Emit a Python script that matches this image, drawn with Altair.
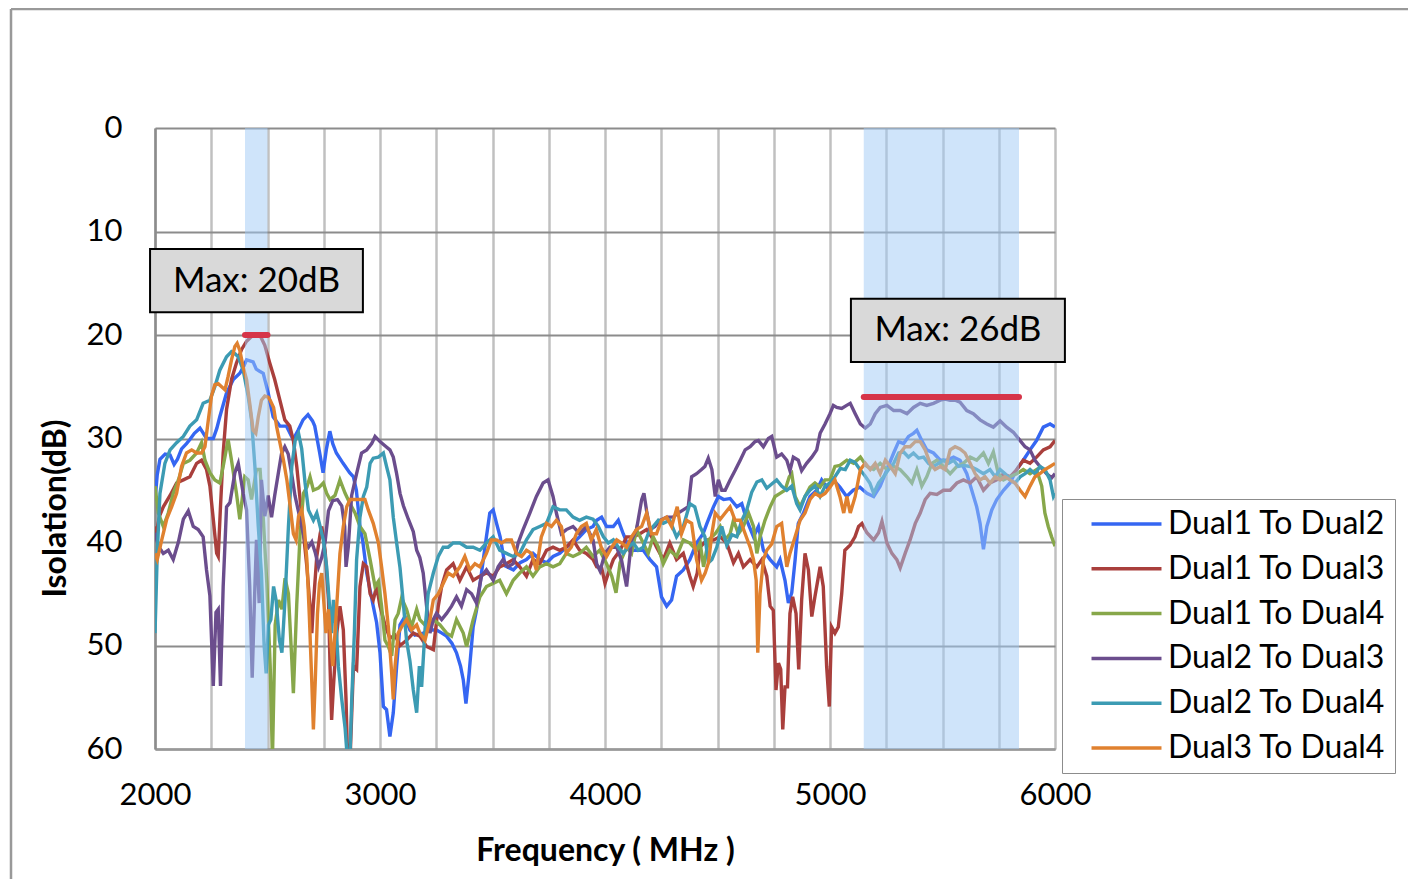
import altair as alt
import pandas as pd

# ---------------- data ----------------
series_names = ["Dual1 To Dual2", "Dual1 To Dual3", "Dual1 To Dual4",
                "Dual2 To Dual3", "Dual2 To Dual4", "Dual3 To Dual4"]
series_colors = ["#3566f2", "#a93f3c", "#87a74a", "#6b4d8d", "#3c9bb3", "#e0812f"]

# (frequency MHz, isolation dB)
d12 = [(2000,36),(2010,33.5),(2022,32),(2045,31.5),(2067,31.6),(2085,32.5),(2100,32),(2118,31),(2140,30.5),
 (2155,30.1),(2175,29.5),(2200,29),(2215,29.5),(2229,30),(2259,30),(2275,29),(2288,27.9),(2318,25.6),(2348,24.3),
 (2377,23.7),(2395,23),(2407,22.4),(2436,22.6),(2450,23.3),(2465,23.5),(2481,23.7),(2503,25.6),(2525,27.9),
 (2555,28.8),(2584,28.8),(2614,30.1),(2636,29.2),(2658,28.2),(2680,27.7),(2700,28.3),(2710,28.8),(2732,31.4),
 (2747,33.3),(2762,31),(2777,29.3),(2790,30.5),(2806,31.4),(2836,32.4),(2865,33.3),(2882,33.7),(2895,35),
 (2911,38.5),(2924,40),(2941,43),(2970,46.2),(2985,47.8),(3000,50.7),(3015,55.9),(3029,56.2),(3044,58.8),
 (3059,56.5),(3074,52),(3089,48),(3111,47.2),(3133,48.5),(3155,49),(3192,48.8),(3225,48.5),(3251,48.5),
 (3275,48.8),(3296,49.1),(3320,49.8),(3340,50.7),(3358,52),(3370,53.3),(3382,55.6),(3396,52.7),(3414,48.2),
 (3429,46.6),(3451,43),(3473,39.5),(3488,37.2),(3503,36.9),(3518,38.2),(3534,39.5),(3556,42.3),(3575,42.5),
 (3593,42.7),(3623,42),(3651,41.7),(3680,41.1),(3710,41.7),(3741,42),(3769,41.4),(3799,41.1),(3828,40.5),
 (3858,40.1),(3887,39.5),(3917,38.8),(3947,38.5),(3963,37.9),(3985,37.6),(4007,38.5),(4037,38.5),(4059,37.9),
 (4081,39.2),(4111,40.8),(4140,40.8),(4170,40.8),(4200,41.7),(4229,42.4),(4251,45.3),(4274,46.2),(4296,45.6),
 (4318,43.3),(4348,42.7),(4377,41.7),(4407,40.1),(4436,39.2),(4453,38.2),(4482,36.6),(4504,35.6),(4527,35.9),
 (4556,35.8),(4586,36.6),(4608,36.3),(4630,37.9),(4660,39.5),(4682,38.5),(4704,40.8),(4734,41.7),(4763,42.4),
 (4778,41.7),(4800,43.7),(4815,45.9),(4830,44.9),(4845,41.7),(4859,38.2),(4882,37.2),(4911,35.6),(4941,35),
 (4963,34),(4985,34.7),(5015,34),(5044,34.7),(5074,35.6),(5103,35),(5133,34.7),(5164,35.3),(5194,35.6),
 (5223,34.6),(5253,33),(5283,31.4),(5305,30.3),(5327,30.5),(5349,29.8),(5371,29.5),(5386,29.2),(5408,30.2),
 (5430,31.1),(5460,31.4),(5490,32.1),(5519,32.1),(5549,31.8),(5578,32.1),(5608,33.4),(5630,35),(5652,36.6),
 (5667,38.2),(5682,40.7),(5697,38.5),(5719,36.9),(5741,35.9),(5771,35),(5800,34.3),(5830,33),(5859,32.1),
 (5889,31.1),(5918,30.2),(5948,28.9),(5978,28.6),(6000,28.9)]

d13 = [(2000,38.5),(2007,39.1),(2020,37.5),(2037,36.6),(2067,35.5),(2096,34.3),(2126,34),(2155,33.7),(2185,32.4),
 (2207,32.1),(2229,33),(2244,34.6),(2259,37.8),(2274,41.1),(2281,41.4),(2291,36.6),(2303,31.4),(2318,27.2),
 (2340,24.3),(2362,22.7),(2385,21.4),(2407,20.6),(2436,20),(2466,20),(2488,21),(2510,22.7),(2532,24.3),
 (2555,26.3),(2577,28.2),(2599,28.8),(2615,30.2),(2630,32.7),(2645,35.9),(2660,39.2),(2675,42.4),(2689,46.2),
 (2697,48.8),(2704,46),(2719,41.4),(2734,39.2),(2741,38.5),(2756,40.8),(2771,45.6),(2778,52),(2785,57.2),
 (2793,54),(2808,48.8),(2822,46.2),(2837,48.5),(2849,55.2),(2856,61),(2867,61),(2882,52),(2896,52.3),
 (2911,44.3),(2926,42.1),(2941,42.4),(2956,45),(2970,45.6),(2985,44.3),(3000,46.2),(3022,48),(3044,49.3),
 (3067,49),(3089,50),(3118,49.5),(3148,48.8),(3177,49.1),(3207,50.1),(3237,50.4),(3259,46.2),(3274,44.3),
 (3296,42.7),(3325,42.1),(3355,43.7),(3385,42.4),(3414,43.7),(3444,43.3),(3473,43),(3503,43.3),(3532,42.4),
 (3562,42.1),(3592,41.7),(3621,42.4),(3651,43.3),(3680,41.7),(3710,42.1),(3740,40.8),(3769,40.5),(3799,40.8),
 (3828,40.5),(3858,39.8),(3887,40.8),(3917,41.1),(3947,41.7),(3963,42.4),(3985,42.5),(4000,44),(4015,43),
 (4037,41.7),(4067,40.8),(4096,39.5),(4126,39.5),(4155,39.2),(4185,38.8),(4207,39.5),(4229,40.5),(4259,41.7),
 (4288,40.1),(4318,41.7),(4348,41.1),(4377,43.3),(4392,44.3),(4410,43),(4423,40.5),(4453,39.8),(4482,39.8),
 (4512,39.5),(4541,40.1),(4571,42),(4593,41.1),(4615,42.4),(4645,41.7),(4675,42.4),(4697,41.7),(4719,43.3),
 (4734,46.2),(4748,46.6),(4760,54.3),(4771,51.7),(4781,52.3),(4790,58.1),(4800,54),(4811,54),(4822,46.9),
 (4834,45.3),(4849,46.9),(4861,52.3),(4874,45.6),(4889,41.1),(4904,42.7),(4919,47.2),(4933,45.3),(4956,42.4),
 (4970,44.3),(4985,52),(4997,55.9),(5007,48.2),(5022,48.8),(5037,48.2),(5052,45),(5066,40.8),(5089,40.3),
 (5111,39.5),(5127,38.5),(5142,38.2),(5164,39.1),(5194,39.8),(5216,39.1),(5231,38),(5253,40.1),(5275,41.1),
 (5297,41.7),(5312,42.5),(5334,41.1),(5356,39.8),(5379,38.2),(5401,37.2),(5423,35.9),(5445,35.3),(5475,35.4),
 (5504,35),(5534,35),(5564,34.3),(5593,34),(5623,34.3),(5652,33.7),(5682,35),(5711,34.3),(5741,34),(5771,33.4),
 (5800,33.7),(5830,33),(5859,32.1),(5889,32.4),(5918,31.8),(5948,31.1),(5978,30.8),(6000,30.2)]

d14 = [(2000,34.6),(2015,37.2),(2037,38.5),(2059,37.2),(2081,35.3),(2104,34),(2126,32.4),(2155,32.1),(2185,31.4),
 (2207,30.4),(2222,32.1),(2244,33.3),(2266,34),(2288,34.3),(2303,32.7),(2325,30.1),(2340,32.1),(2362,35.3),
 (2377,37.8),(2399,33.7),(2414,34),(2429,35.9),(2451,33),(2467,33),(2482,38),(2497,44),(2512,52),(2522,61),
 (2534,48),(2549,45.6),(2564,46.5),(2578,43.5),(2593,45),(2608,51.4),(2615,54.6),(2630,46),(2645,39.2),
 (2660,35.3),(2675,34.7),(2689,33.7),(2704,35),(2726,34.8),(2748,34.3),(2763,35.3),(2778,35.9),(2800,35.5),
 (2822,34),(2845,35.3),(2867,36.3),(2889,37.2),(2911,38.5),(2933,39.2),(2956,41.7),(2978,44.3),(2993,43.8),
 (3007,46.2),(3022,49.5),(3037,50.1),(3052,51),(3067,47.5),(3081,46.9),(3096,45.4),(3118,46.5),(3140,48.2),
 (3163,46.5),(3177,47.5),(3207,48.2),(3237,47.5),(3266,48),(3296,48.8),(3318,49.1),(3340,47.5),(3370,48.8),
 (3385,50.1),(3414,47.5),(3444,45.3),(3473,44.3),(3503,44),(3532,43.7),(3562,45),(3592,43.7),(3621,43),
 (3651,42.4),(3680,43.3),(3710,42.4),(3740,42.1),(3769,42.4),(3799,42.1),(3828,41.1),(3858,41.4),(3887,41.1),
 (3917,40.5),(3947,41.4),(3976,40.8),(4007,42.1),(4030,43.3),(4049,44.9),(4067,42),(4096,40.5),(4118,41.1),
 (4140,38.8),(4170,40.1),(4192,41.1),(4214,39.5),(4237,40.5),(4259,42.1),(4288,40.8),(4318,41.4),(4348,39.8),
 (4377,40.1),(4407,40.8),(4423,40.1),(4438,42.4),(4460,39.8),(4490,39.2),(4512,38.5),(4534,39.8),(4556,39.2),
 (4571,37.9),(4593,39.2),(4615,38.5),(4638,37.2),(4660,38.5),(4675,41.1),(4689,39.5),(4711,37.9),(4734,36.6),
 (4756,35.6),(4778,35.3),(4800,35),(4819,33.7),(4830,33.4),(4845,35.6),(4867,36.6),(4889,35.6),(4911,34.7),
 (4933,34.3),(4956,34.7),(4978,34),(5000,34),(5022,32.7),(5044,32.6),(5075,32.1),(5105,32.4),(5135,31.8),
 (5164,32.7),(5194,33),(5223,32.4),(5253,33),(5283,32.7),(5312,33),(5342,33.7),(5364,34.3),(5386,33),
 (5408,34.6),(5430,33.7),(5453,32.4),(5475,32.1),(5504,32.7),(5534,33.4),(5564,32.7),(5593,32.4),(5623,31.8),
 (5652,32.1),(5682,31.4),(5704,32.4),(5726,31.3),(5748,33.4),(5771,34),(5800,33.7),(5830,33.4),(5859,33),
 (5889,33.4),(5918,33),(5941,34.6),(5955,37.2),(5970,38.5),(5985,39.5),(6000,40.4)]

d23 = [(2000,39.1),(2015,40.4),(2037,41.1),(2059,40.8),(2081,41.7),(2104,40),(2126,37.8),(2148,37),(2170,38.5),
 (2192,38.8),(2214,39.5),(2229,42.7),(2244,45.2),(2259,53.9),(2271,46.8),(2281,46.5),(2291,53.9),(2303,44.3),
 (2318,36.6),(2333,36.2),(2355,33.3),(2370,32.4),(2392,35.3),(2407,36.9),(2421,44.3),(2432,53.1),(2444,44.3),
 (2451,39.8),(2463,45.9),(2473,34),(2488,37.5),(2503,35.5),(2518,37.6),(2532,35.5),(2547,33.5),(2562,31.5),
 (2577,30.8),(2592,31.5),(2608,33.5),(2622,35.5),(2637,37),(2652,38.5),(2667,40),(2682,40.5),(2697,40),
 (2712,41),(2727,42.4),(2741,41.5),(2756,40),(2771,37),(2790,36),(2811,35.9),(2830,36.5),(2843,38.5),
 (2849,42.4),(2859,40.5),(2874,35.5),(2896,33.4),(2918,31.4),(2941,31.1),(2963,30.5),(2978,29.8),(3000,30.3),
 (3022,30.7),(3044,31.1),(3059,31.8),(3074,33.4),(3089,35.3),(3104,36.5),(3126,37.8),(3148,39),(3163,40.8),
 (3177,41.5),(3192,43),(3207,46.2),(3222,48.8),(3237,47.5),(3251,46.9),(3274,47.5),(3296,46.9),(3318,46.2),
 (3340,45.3),(3362,46.2),(3385,44.6),(3407,45),(3429,45.9),(3451,43.3),(3473,42.7),(3503,43.7),(3525,42.4),
 (3547,41.7),(3569,42.4),(3592,42.1),(3614,40.1),(3636,38.8),(3666,37.2),(3695,35.6),(3725,34.3),(3747,34),
 (3769,35.6),(3784,37.2),(3806,39.2),(3828,38.8),(3858,38.5),(3887,39.2),(3917,38.5),(3947,39.8),(3963,42.1),
 (3978,42.8),(4000,41.1),(4022,40.5),(4052,40.5),(4074,41.8),(4096,44.3),(4118,39.8),(4140,38.8),(4163,35.9),
 (4173,35.3),(4185,37),(4200,38.8),(4222,38.5),(4244,37.9),(4274,37.6),(4303,37.6),(4325,37.2),(4348,36.9),
 (4370,36.6),(4385,33.7),(4407,33.4),(4429,33),(4444,32.7),(4459,31.9),(4475,33),(4490,35.6),(4504,34),
 (4519,35),(4534,35),(4556,34),(4578,33.1),(4601,32.1),(4623,31.1),(4645,30.8),(4667,30.3),(4682,30.2),
 (4704,30.8),(4726,30),(4741,29.8),(4763,31.8),(4785,31.5),(4808,32.1),(4822,33.1),(4837,31.8),(4859,32.1),
 (4874,33.1),(4896,32.4),(4919,31.8),(4941,31.1),(4956,29.5),(4978,28.6),(5000,27.6),(5015,26.8),(5030,27),
 (5052,27.1),(5074,26.8),(5090,26.6),(5112,27.6),(5135,28.6),(5157,29),(5179,28.6),(5201,27.6),(5223,27),
 (5253,26.8),(5283,27.3),(5312,27.3),(5342,27.6),(5371,27),(5401,26.6),(5430,26.8),(5460,26.6),(5490,26.3),
 (5512,26.2),(5534,26.3),(5556,26.3),(5578,26.5),(5608,27.3),(5637,27.6),(5667,28.2),(5697,28.6),(5726,28.9),
 (5756,28.3),(5785,28.9),(5815,29.4),(5845,30.2),(5867,30.8),(5889,31.1),(5911,32.1),(5933,32.7),(5963,33.4),
 (5985,33.8),(6000,33.4)]

d24 = [(2000,48.8),(2010,41.1),(2022,35.3),(2044,32.4),(2067,31.1),(2096,30.4),(2126,29.8),(2155,28.8),(2185,28.2),
 (2214,26.6),(2244,26.3),(2266,25),(2288,23.4),(2318,22.1),(2340,21.6),(2355,21.8),(2370,22.1),(2392,23.4),
 (2414,25.9),(2429,28.2),(2444,32.7),(2459,38.5),(2473,43),(2485,50),(2494,52.7),(2504,48),(2515,47.5),
 (2527,44.3),(2538,45.6),(2553,49.5),(2564,50.7),(2578,45.5),(2593,38.5),(2608,32.7),(2623,30.2),(2638,29.5),
 (2652,31),(2667,34.3),(2682,36.9),(2704,37.9),(2719,37.2),(2734,38.5),(2748,39.8),(2763,42.4),(2778,46.9),
 (2785,48.8),(2793,45.6),(2805,48.2),(2815,52),(2830,55.2),(2845,58),(2855,61),(2866,61),(2874,55.5),
 (2886,48.8),(2896,41.7),(2911,37.6),(2926,35.6),(2941,34.7),(2956,32.4),(2970,31.9),(2993,31.8),(3015,31.4),
 (3029,32.7),(3044,34),(3059,37.6),(3074,40.1),(3089,42.5),(3104,46),(3118,49.5),(3133,51.5),(3148,54.3),
 (3163,56.5),(3175,52),(3185,54),(3200,48.5),(3214,45),(3237,43),(3259,41.4),(3281,40.5),(3303,40.5),
 (3325,40.1),(3355,40.1),(3385,40.5),(3414,40.5),(3444,40.8),(3473,40.1),(3503,39.5),(3532,40.8),(3562,41.1),
 (3592,41.4),(3621,41.1),(3651,39.8),(3680,38.8),(3710,38.5),(3740,38.2),(3769,36.6),(3799,36.9),(3828,36.9),
 (3858,37.6),(3887,37.9),(3917,37.6),(3947,37.8),(3970,38.5),(3993,39.5),(4015,40.1),(4037,39.8),(4059,40.5),
 (4081,41.1),(4104,40.5),(4126,40.1),(4148,40.8),(4170,40.5),(4192,39.2),(4214,38.5),(4237,37.9),(4259,38.2),
 (4288,37.9),(4318,39.5),(4348,38.5),(4377,36.3),(4399,36.6),(4422,38.5),(4444,39.5),(4460,42),(4475,41.7),
 (4497,40.5),(4519,38.5),(4541,40.3),(4564,39.3),(4586,39.5),(4608,37.9),(4630,36.9),(4652,35.2),(4675,34.2),
 (4697,34),(4719,34.8),(4741,34.4),(4763,34),(4785,34.6),(4808,35),(4830,34.6),(4852,36.3),(4867,36.9),
 (4889,35.6),(4911,35),(4933,34.6),(4956,35.6),(4978,34.6),(5000,34.3),(5022,33.7),(5046,32.9),(5068,33),
 (5090,32.1),(5111,32.3),(5133,33),(5155,33.6),(5177,34.3),(5194,35.3),(5216,34.3),(5238,33.7),(5260,33),
 (5283,32.4),(5305,31.4),(5327,31.3),(5349,31.8),(5371,31.4),(5394,31.9),(5416,31.8),(5438,32.4),(5460,32.7),
 (5482,32.4),(5504,32.1),(5527,32.4),(5549,32.1),(5571,32.7),(5593,32.6),(5623,32.7),(5652,33),(5682,33.4),
 (5711,33),(5734,33.7),(5756,33),(5778,33.4),(5800,34),(5822,34.3),(5845,33.7),(5867,33.4),(5889,33),
 (5911,33.4),(5933,32.7),(5955,33),(5978,34),(5993,35.6),(6000,35.3)]

d34 = [(2000,41.1),(2010,41.7),(2030,39.8),(2052,37.8),(2074,36.6),(2096,35.3),(2118,32.7),(2140,31.4),(2163,31.1),
 (2185,31.4),(2207,31.4),(2222,30.8),(2237,28.2),(2251,25.9),(2266,24.8),(2281,24.7),(2296,25),(2311,25.3),
 (2325,24),(2340,22.4),(2355,21.1),(2365,20.8),(2377,21.5),(2392,23.1),(2407,24.3),(2421,26.6),(2436,29.2),
 (2448,29.5),(2459,27.9),(2473,26.3),(2488,25.9),(2503,26),(2512,26.3),(2527,27),(2541,28.9),(2556,30.5),
 (2571,32.1),(2586,34),(2601,36.6),(2615,39.2),(2627,39.8),(2638,37.5),(2652,36.9),(2663,38.5),(2675,41.7),
 (2686,47.2),(2697,53.6),(2704,58.1),(2712,53.6),(2722,47),(2731,44),(2741,43),(2751,46),(2760,48.8),
 (2771,46.5),(2781,49.5),(2790,52),(2800,48.8),(2811,45),(2822,41.1),(2837,38.5),(2852,36.6),(2867,35.9),
 (2889,35.9),(2911,35.9),(2933,35.9),(2948,36.9),(2970,38.2),(2993,40.1),(3007,42.4),(3022,45),(3037,48.2),
 (3052,52.7),(3059,55.2),(3067,52),(3081,48.8),(3096,48.2),(3118,47.5),(3140,48.5),(3163,48),(3177,48.8),
 (3200,49.5),(3222,47.5),(3237,45.6),(3259,45),(3281,44),(3303,43),(3325,43.3),(3355,42.4),(3377,41.4),
 (3399,42.7),(3422,42.1),(3444,42.4),(3473,41.1),(3495,39.8),(3518,39.8),(3540,40.1),(3562,39.8),(3584,39.8),
 (3606,41.1),(3629,41.4),(3651,40.8),(3673,41.1),(3695,42.7),(3717,39.5),(3740,38.2),(3762,38.5),(3784,37.9),
 (3806,38.5),(3828,41.1),(3850,40.5),(3873,39.2),(3895,38.5),(3917,38.2),(3939,39.8),(3961,38.8),(3983,40.5),
 (4007,41.4),(4030,40.5),(4052,39.8),(4074,40.1),(4096,40.5),(4118,39.5),(4140,38.8),(4163,38.5),(4185,37.2),
 (4207,39.2),(4229,39.2),(4251,37.9),(4274,37.6),(4296,38.5),(4321,36.6),(4340,39.2),(4362,37.9),(4385,38.2),
 (4407,41.7),(4429,43.7),(4445,43),(4460,42),(4475,39.2),(4490,37.2),(4512,37.8),(4534,37.2),(4556,36.6),
 (4578,37.9),(4601,37.9),(4623,39.2),(4645,40.5),(4660,41.7),(4672,43.7),(4679,50.7),(4689,45),(4704,41.7),
 (4719,40.8),(4741,40.2),(4763,38.5),(4785,38.2),(4808,42.4),(4822,41.1),(4845,39.5),(4867,37.9),(4889,37.2),
 (4911,35.9),(4933,35.3),(4956,35.6),(4978,35.3),(5000,34.7),(5022,34),(5044,35.6),(5061,37.2),(5075,35.6),
 (5090,37.2),(5112,35.6),(5135,33),(5157,32.4),(5179,33),(5201,32.4),(5223,33.4),(5246,32.1),(5268,32.7),
 (5290,33.4),(5312,31.4),(5334,30.8),(5356,30.8),(5379,30.3),(5401,30.3),(5423,31.1),(5445,32.4),(5467,33),
 (5490,32.7),(5512,33),(5534,31.1),(5556,30.8),(5578,31),(5600,31.4),(5623,32.4),(5645,33.4),(5667,34),
 (5689,33.7),(5711,34.3),(5734,33.7),(5756,34),(5778,33.7),(5800,34),(5822,34.3),(5845,35),(5867,35.6),
 (5889,34.6),(5911,33.7),(5933,33.4),(5955,33),(5978,32.7),(6000,32.4)]

series_points = [d12, d13, d14, d23, d24, d34]

# frequency bands (shaded) and the max-isolation markers
band_start = [2400, 5150]
band_end = [2500, 5840]
max_level = [20, 26]

# annotation boxes
note_text = ["Max: 20dB", "Max: 26dB"]
note_f0 = [1978, 5093]
note_f1 = [2924, 6044]
note_db0 = [11.7, 16.5]
note_db1 = [17.8, 22.6]

x_ticks = list(range(2000, 6001, 250))
y_ticks = list(range(0, 61, 10))

FONT = "Lato"

# ---------------- tables ----------------
rows = []
for name, pts in zip(series_names, series_points):
    for f, v in pts:
        rows.append({"series": name, "freq": f, "db": v})
lines_df = pd.DataFrame(rows)

bands_df = pd.DataFrame({"f0": band_start, "f1": band_end, "lvl": max_level})
notes_df = pd.DataFrame({"text": note_text, "f0": note_f0, "f1": note_f1,
                         "d0": note_db0, "d1": note_db1})
notes_df["fc"] = (notes_df["f0"] + notes_df["f1"]) / 2
notes_df["dc"] = (notes_df["d0"] + notes_df["d1"]) / 2

W, H = 900, 621

x_scale = alt.Scale(domain=[2000, 6000], nice=False, zero=False)
y_scale = alt.Scale(domain=[0, 60], reverse=True, nice=False)

x_axis = alt.Axis(values=x_ticks, format="d",
                  labelExpr="datum.value % 1000 === 0 ? datum.label : ''",
                  grid=True, gridColor="#c0c0c0", gridWidth=2.5,
                  domainColor="#999999", domainWidth=2.5,
                  ticks=False, tickSize=0,
                  labelFont=FONT, labelFontSize=31, labelColor="#000000",
                  labelBaseline="middle", labelPadding=46, labelFlush=False,
                  title="Frequency ( MHz )", titleFont=FONT, titleFontSize=32,
                  titleFontWeight="bold", titleColor="#000000",
                  titleY=101, titleBaseline="middle")
y_axis = alt.Axis(values=y_ticks, grid=True, gridColor="#8c8c8c", gridWidth=2,
                  domainColor="#8c8c8c", domainWidth=2.5,
                  ticks=False, tickSize=0,
                  labelFont=FONT, labelFontSize=31, labelColor="#000000",
                  labelPadding=33, labelFlush=False,
                  title="Isolation(dB)", titleFont=FONT, titleFontSize=32,
                  titleFontWeight="bold", titleColor="#000000",
                  titleX=-100, titleY=380, titleAngle=270, titleAlign="center",
                  titleBaseline="middle")

lines = alt.Chart(lines_df).mark_line(strokeWidth=3.4, clip=True).encode(
    x=alt.X("freq:Q", scale=x_scale, axis=x_axis),
    y=alt.Y("db:Q", scale=y_scale, axis=y_axis),
    color=alt.Color("series:N",
                    scale=alt.Scale(domain=series_names, range=series_colors),
                    legend=alt.Legend(orient="none", legendX=907, legendY=371,
                                      title=None, fillColor="#ffffff",
                                      strokeColor="#8c8c8c",
                                      padding=9, symbolType="M-3,0L3,0",
                                      symbolSize=544, symbolStrokeWidth=3.5,
                                      symbolOffset=39.5, labelOffset=25.5,
                                      labelFont=FONT, labelFontSize=32,
                                      labelColor="#000000", labelLimit=0,
                                      rowPadding=12.8)),
    order=alt.Order("freq:Q"),
)

bands = alt.Chart(bands_df).mark_rect(color="#9fc9f5", opacity=0.5).encode(
    x="f0:Q", x2="f1:Q", y=alt.datum(0), y2=alt.datum(60))

max_marks = alt.Chart(bands_df).mark_rule(color="#d63449", strokeWidth=6,
                                          strokeCap="round", clip=False).encode(
    x="f0:Q", x2="f1:Q", y="lvl:Q")

boxes = alt.Chart(notes_df).mark_rect(fill="#d9d9d9", stroke="#000000",
                                       strokeWidth=2, clip=False).encode(
    x="f0:Q", x2="f1:Q", y="d0:Q", y2="d1:Q")

texts = alt.Chart(notes_df).mark_text(font=FONT, fontSize=35, color="#000000",
                                       align="center", baseline="middle",
                                       clip=False).encode(
    x="fc:Q", y="dc:Q", text="text:N")

# outer chart-frame lines (left and top), decorative
frame_left = alt.Chart(notes_df.head(1)).mark_rule(color="#999999", strokeWidth=2.5,
                                                   clip=False).encode(
    x=alt.value(-144), y=alt.value(-119), y2=alt.value(H + 140))
frame_top = alt.Chart(notes_df.head(1)).mark_rule(color="#999999", strokeWidth=2.5,
                                                  clip=False).encode(
    x=alt.value(-144), x2=alt.value(W + 360), y=alt.value(-119))

chart = alt.layer(lines, bands, max_marks, boxes, texts, frame_left, frame_top).properties(
    width=W, height=H,
    autosize=alt.AutoSizeParams(type="none"),
    padding={"left": 147, "top": 120, "right": 353, "bottom": 130},
).configure_view(strokeWidth=0).configure_legend(strokeWidth=3).configure(background="#ffffff")

chart.save("out.html", embed_options={"renderer": "svg", "actions": False})
